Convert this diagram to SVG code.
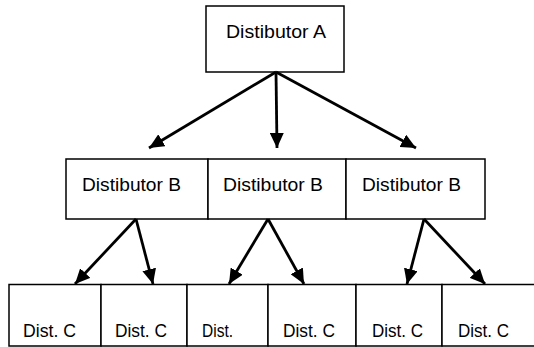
<svg xmlns="http://www.w3.org/2000/svg" width="534" height="347" viewBox="0 0 534 347">
  <defs>
    <marker id="arrow" markerUnits="userSpaceOnUse" markerWidth="16" markerHeight="14" refX="15" refY="7" orient="auto">
      <path d="M0,0 L15,7 L0,14 z" fill="#000"/>
    </marker>
  </defs>
  <style>
    .box { fill: #fff; stroke: #000; stroke-width: 1.5; }
    .lbl { font-family: "Liberation Sans", Arial, sans-serif; font-size: 19px; fill: #000; }
    .conn line { stroke: #000; stroke-width: 2.8; marker-end: url(#arrow); }
  </style>
  <rect width="534" height="347" fill="#fff"/>

  <!-- top level -->
  <g id="dist-a">
    <rect class="box" x="206" y="6" width="138" height="66"/>
    <text class="lbl" x="226" y="38" textLength="100" lengthAdjust="spacingAndGlyphs">Distibutor A</text>
  </g>

  <!-- second level -->
  <g id="dist-b1">
    <rect class="box" x="66" y="159" width="142" height="60"/>
    <text class="lbl" x="82" y="191" textLength="99" lengthAdjust="spacingAndGlyphs">Distibutor B</text>
  </g>
  <g id="dist-b2">
    <rect class="box" x="208" y="159" width="138" height="60"/>
    <text class="lbl" x="223" y="191" textLength="100" lengthAdjust="spacingAndGlyphs">Distibutor B</text>
  </g>
  <g id="dist-b3">
    <rect class="box" x="346" y="159" width="139" height="60"/>
    <text class="lbl" x="362" y="191" textLength="99" lengthAdjust="spacingAndGlyphs">Distibutor B</text>
  </g>

  <!-- third level -->
  <g id="dist-c1">
    <rect class="box" x="9" y="284.5" width="92" height="61.5"/>
    <text class="lbl" x="23" y="337" textLength="53" lengthAdjust="spacingAndGlyphs">Dist. C</text>
  </g>
  <g id="dist-c2">
    <rect class="box" x="101" y="284.5" width="86" height="61.5"/>
    <text class="lbl" x="115" y="337" textLength="52" lengthAdjust="spacingAndGlyphs">Dist. C</text>
  </g>
  <g id="dist-c3">
    <rect class="box" x="187" y="284.5" width="81" height="61.5"/>
    <text class="lbl" x="202" y="337" textLength="31" lengthAdjust="spacingAndGlyphs">Dist.</text>
  </g>
  <g id="dist-c4">
    <rect class="box" x="268" y="284.5" width="88" height="61.5"/>
    <text class="lbl" x="283" y="337" textLength="52" lengthAdjust="spacingAndGlyphs">Dist. C</text>
  </g>
  <g id="dist-c5">
    <rect class="box" x="356" y="284.5" width="86" height="61.5"/>
    <text class="lbl" x="372" y="337" textLength="51" lengthAdjust="spacingAndGlyphs">Dist. C</text>
  </g>
  <g id="dist-c6">
    <rect class="box" x="442" y="284.5" width="100" height="61.5"/>
    <text class="lbl" x="458" y="337" textLength="51" lengthAdjust="spacingAndGlyphs">Dist. C</text>
  </g>

  <!-- connectors -->
  <g id="connectors" class="conn">
    <line x1="276" y1="72" x2="149" y2="148"/>
    <line x1="276" y1="72" x2="277" y2="148"/>
    <line x1="276" y1="72" x2="416" y2="148"/>
    <line x1="136" y1="219" x2="75" y2="284"/>
    <line x1="136" y1="219" x2="153" y2="284"/>
    <line x1="268" y1="219" x2="229" y2="284"/>
    <line x1="268" y1="219" x2="304" y2="284"/>
    <line x1="424" y1="219" x2="407" y2="284"/>
    <line x1="424" y1="219" x2="485" y2="284"/>
  </g>
</svg>
